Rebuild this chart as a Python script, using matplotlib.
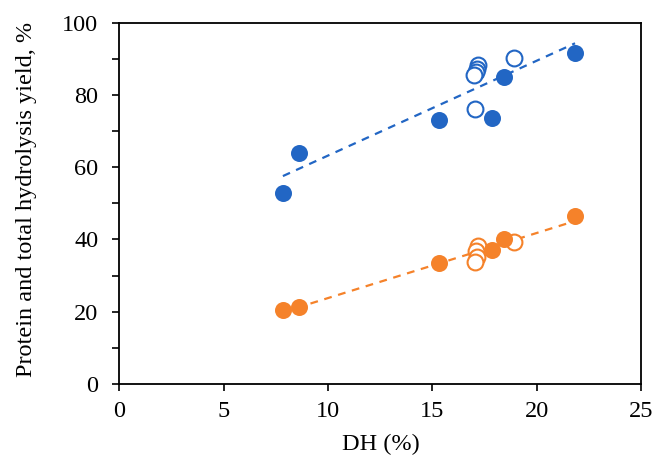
import numpy as np
import matplotlib
matplotlib.use("Agg")
import matplotlib.pyplot as plt

# DH (%) vs yield
# blue = total hydrolysis yield, orange = protein yield
blue_x_filled = [7.84, 8.61, 15.34, 17.87, 18.44, 21.84]
blue_y_filled = [53.0, 63.8, 73.1, 73.6, 84.9, 91.7]
blue_x_open = [17.03, 18.92, 17.2, 17.15, 17.1, 17.0]
blue_y_open = [76.2, 90.2, 88.3, 87.2, 86.4, 85.4]

orange_x_filled = [7.84, 8.61, 15.34, 17.87, 18.44, 21.84]
orange_y_filled = [20.5, 21.4, 33.6, 37.1, 40.2, 46.5]
orange_x_open = [18.92, 17.2, 17.1, 17.15, 17.03]
orange_y_open = [39.4, 38.2, 36.9, 35.2, 33.9]

blue = "#2266C4"
orange = "#F5822A"

plt.rcParams["font.family"] = ["Liberation Serif", "DejaVu Serif"]

fig = plt.figure(figsize=(6.65, 4.62), dpi=100)
ax = fig.add_axes([119.3 / 665, 1 - 384 / 462, (641 - 119.3) / 665, (384 - 22.7) / 462])


def trend(ax, xs, ys, color):
    # linear trendline over all points of the series (like Excel)
    k, b = np.polyfit(xs, ys, 1)
    xx = np.array([min(xs), max(xs)])
    ax.plot(xx, k * xx + b, ls=(0, (3.5, 3)), color=color, lw=1.6, zorder=1)


trend(ax, blue_x_filled + blue_x_open, blue_y_filled + blue_y_open, blue)
trend(ax, orange_x_filled + orange_x_open, orange_y_filled + orange_y_open, orange)

ax.scatter(blue_x_filled, blue_y_filled, s=150, color=blue, zorder=3, linewidths=0)
ax.scatter(blue_x_open, blue_y_open, s=130, facecolors="white", edgecolors=blue,
           linewidths=1.5, zorder=2)
ax.scatter(orange_x_filled, orange_y_filled, s=150, color=orange, zorder=3, linewidths=0)
ax.scatter(orange_x_open, orange_y_open, s=130, facecolors="white", edgecolors=orange,
           linewidths=1.5, zorder=2)

ax.set_xlim(0, 25)
ax.set_ylim(0, 100)
ax.set_xticks(range(0, 26, 5))
ax.set_yticks(range(0, 101, 20))
ax.set_yticks(range(10, 100, 20), minor=True)
ax.tick_params(axis="both", which="both", direction="out", length=5, width=1.2,
               labelsize=17.5, color="black")
ax.tick_params(axis="y", pad=10)
ax.tick_params(axis="x", pad=7)
for sp in ax.spines.values():
    sp.set_linewidth(1.3)

ax.set_xlabel("DH (%)", fontsize=17.5)
ax.set_ylabel("Protein and total hydrolysis yield, %", fontsize=17.5)
ax.xaxis.set_label_coords((381 - 119.3) / (641 - 119.3), -(434 - 384) / (384 - 22.7))
ax.yaxis.set_label_coords(-(119.3 - 37) / (641 - 119.3), 0.51)

fig.savefig("out.png", dpi=100)
